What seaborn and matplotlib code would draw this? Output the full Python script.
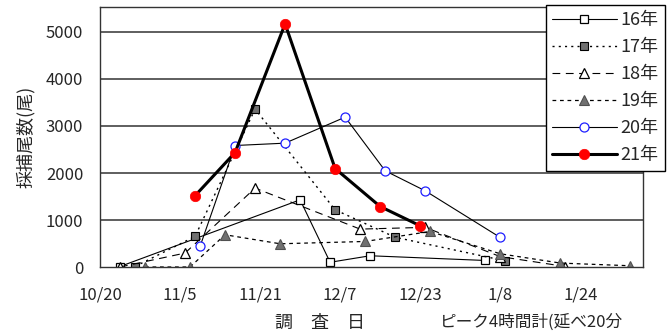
import numpy as np
import pandas as pd
import seaborn as sns
import matplotlib
matplotlib.use('Agg')
import matplotlib.pyplot as plt
import matplotlib.dates as mdates
import matplotlib.ticker as mtick

sns.set_style('white')
plt.rcParams['font.family'] = ['Noto Sans CJK JP', 'DejaVu Sans']

# survey dates (month/day) and catch counts per year
d16 = ['10/24', '11/29', '12/5', '12/13', '1/5']
v16 = [20, 1434, 110, 248, 148]
d17 = ['10/27', '11/8', '11/20', '12/6', '12/18', '1/9']
v17 = [20, 657, 3356, 1222, 640, 140]
d18 = ['10/24', '11/6', '11/20', '12/11', '12/24', '1/8', '1/21']
v18 = [10, 305, 1682, 813, 850, 230, 20]
d19 = ['10/29', '11/7', '11/14', '11/25', '12/12', '12/25', '1/8', '1/20', '2/3']
v19 = [10, 10, 693, 502, 551, 763, 290, 93, 36]
d20 = ['11/9', '11/16', '11/26', '12/8', '12/16', '12/24', '1/8']
v20 = [445, 2585, 2635, 3186, 2049, 1625, 636]
d21 = ['11/8', '11/16', '11/26', '12/6', '12/15', '12/23']
v21 = [1520, 2436, 5163, 2097, 1292, 883]

tick_days = ['10/20', '11/5', '11/21', '12/7', '12/23', '1/8', '1/24']


def to_date(s):
    m, d = [int(p) for p in s.split('/')]
    return pd.Timestamp(2008 if m >= 10 else 2009, m, d)


fig, ax = plt.subplots(figsize=(6.71, 3.36), dpi=100)
fig.subplots_adjust(left=0.149, right=0.958, bottom=0.204, top=0.979)

for y in range(1000, 6000, 1000):
    ax.axhline(y, color='#333333', lw=1.1, zorder=0)

sns.lineplot(x=[to_date(s) for s in d16], y=v16, ax=ax, label='16年', color='black',
             lw=0.8, linestyle='-', marker='s', ms=6, markerfacecolor='white',
             markeredgecolor='black', markeredgewidth=0.9)
sns.lineplot(x=[to_date(s) for s in d17], y=v17, ax=ax, label='17年', color='black',
             lw=1.0, linestyle=(0, (1.5, 3)), marker='s', ms=6, markerfacecolor='#707070',
             markeredgecolor='black', markeredgewidth=0.8)
sns.lineplot(x=[to_date(s) for s in d18], y=v18, ax=ax, label='18年', color='black',
             lw=0.8, linestyle=(0, (7, 5)), marker='^', ms=7, markerfacecolor='white',
             markeredgecolor='black', markeredgewidth=0.9)
sns.lineplot(x=[to_date(s) for s in d19], y=v19, ax=ax, label='19年', color='black',
             lw=0.9, linestyle=(0, (3, 3)), marker='^', ms=7, markerfacecolor='#707070',
             markeredgecolor='#505050', markeredgewidth=0.8)
sns.lineplot(x=[to_date(s) for s in d20], y=v20, ax=ax, label='20年', color='black',
             lw=0.8, linestyle='-', marker='o', ms=6.5, markerfacecolor='white',
             markeredgecolor='#1f1fff', markeredgewidth=0.9)
sns.lineplot(x=[to_date(s) for s in d21], y=v21, ax=ax, label='21年', color='black',
             lw=2.2, linestyle='-', marker='o', ms=7.5, markerfacecolor='#ff0000',
             markeredgecolor='#ff0000', markeredgewidth=0.5)

ax.set_ylim(0, 5520)
ax.set_xlim(to_date('10/20'), to_date('10/20') + pd.Timedelta(days=108.5))
ax.yaxis.set_major_locator(mtick.MultipleLocator(1000))
ax.yaxis.set_minor_locator(mtick.MultipleLocator(200))

ticks = [mdates.date2num(to_date(s)) for s in tick_days]
ax.xaxis.set_major_locator(mtick.FixedLocator(ticks))
ax.xaxis.set_major_formatter(mtick.FixedFormatter(tick_days))
minor = [mdates.date2num(to_date('10/20') + pd.Timedelta(days=k)) for k in range(0, 101, 10)]
ax.xaxis.set_minor_locator(mtick.FixedLocator(minor))

ax.tick_params(axis='both', which='both', direction='in', length=4, width=0.8,
               color='#333333', labelsize=12)
ax.tick_params(axis='y', pad=12)
ax.tick_params(axis='x', pad=14)
for sp in ax.spines.values():
    sp.set_color('#333333')
    sp.set_linewidth(1.0)

ax.set_xlabel('')
ax.set_ylabel('採捕尾数(尾)', fontsize=13, labelpad=8)
fig.text(0.477, 0.04, '調　査　日', fontsize=13, ha='center', va='center')
fig.text(0.655, 0.04, 'ピーク4時間計(延べ20分', fontsize=12, ha='left', va='center')

leg = ax.legend(loc='upper right', bbox_to_anchor=(0.991, 0.985),
                bbox_transform=fig.transFigure, fontsize=13, handlelength=3.6,
                labelspacing=0.5, borderpad=0.35, handletextpad=0.2,
                fancybox=False, framealpha=1, edgecolor='black', borderaxespad=0)
leg.get_frame().set_linewidth(1.0)

plt.savefig('out.png', dpi=100)
